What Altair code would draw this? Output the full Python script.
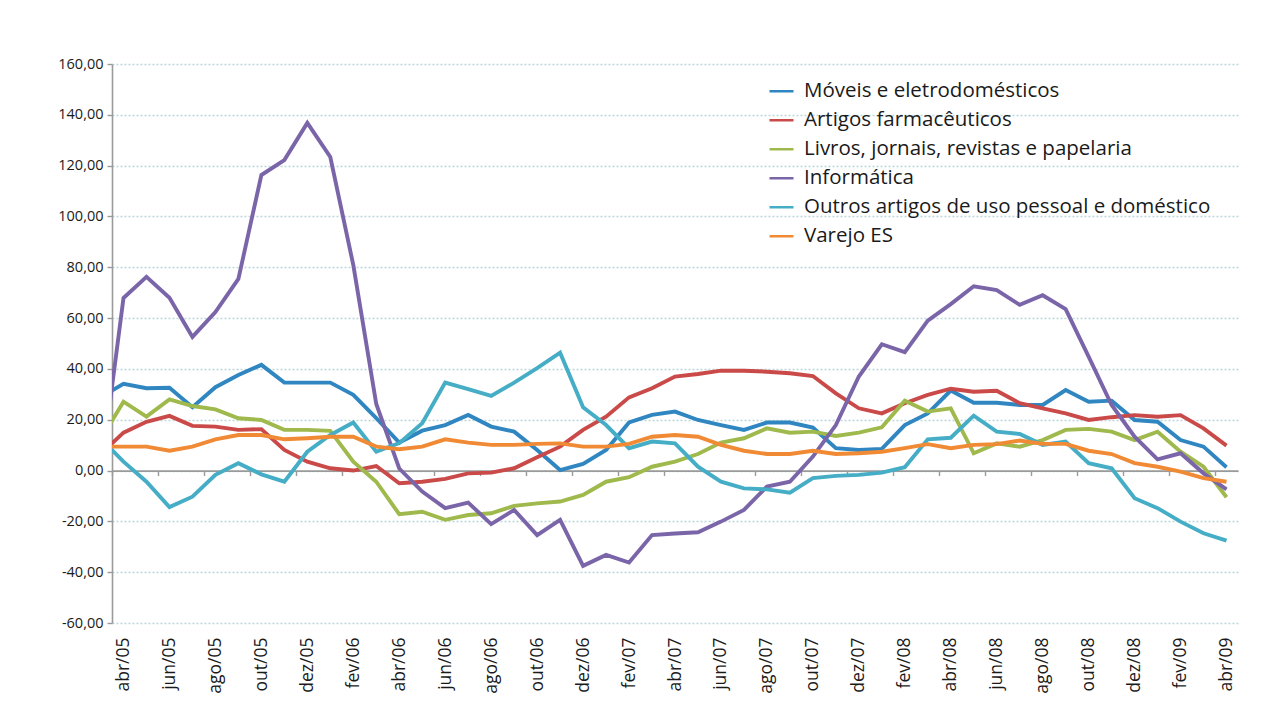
import altair as alt
import pandas as pd

months = ["mar/05",
          "abr/05", "mai/05", "jun/05", "jul/05", "ago/05", "set/05", "out/05", "nov/05", "dez/05",
          "jan/06", "fev/06", "mar/06", "abr/06", "mai/06", "jun/06", "jul/06", "ago/06", "set/06",
          "out/06", "nov/06", "dez/06", "jan/07", "fev/07", "mar/07", "abr/07", "mai/07", "jun/07",
          "jul/07", "ago/07", "set/07", "out/07", "nov/07", "dez/07", "jan/08", "fev/08", "mar/08",
          "abr/08", "mai/08", "jun/08", "jul/08", "ago/08", "set/08", "out/08", "nov/08", "dez/08",
          "jan/09", "fev/09", "mar/09", "abr/09"]

moveis = [28.9,
          34.1, 32.4, 32.6, 24.9, 32.8, 37.6, 41.6, 34.6, 34.6, 34.6, 29.8, 20.6, 11.0, 15.7, 17.9,
          21.9, 17.3, 15.3, 8.1, 0.2, 2.6, 8.1, 18.9, 21.9, 23.2, 19.9, 17.9, 16.0, 18.9, 18.9, 16.9,
          8.8, 8.1, 8.5, 17.9, 22.5, 31.5, 26.7, 26.7, 25.8, 25.8, 31.7, 27.1, 27.5, 19.9, 19.2, 12.0,
          9.4, 1.3]
farmaceuticos = [6.5,
                 14.9, 19.2, 21.5, 17.6, 17.3, 16.0, 16.3, 8.1, 3.5, 0.9, 0.0, 1.8, -5.0, -4.4, -3.3,
                 -1.1, -0.8, 0.9, 5.2, 9.4, 16.0, 21.2, 28.8, 32.4, 37.0, 38.0, 39.3, 39.3, 38.9, 38.3,
                 37.2, 30.4, 24.5, 22.5, 26.5, 29.8, 32.2, 31.0, 31.4, 26.5, 24.5, 22.5, 19.9, 21.0,
                 21.8, 21.2, 21.8, 16.6, 9.8]
livros = [12.1,
          27.1, 21.2, 28.0, 25.4, 24.1, 20.6, 19.9, 16.0, 16.0, 15.6, 3.5, -4.4, -17.2, -16.2, -19.4,
          -17.5, -16.8, -13.9, -12.9, -12.2, -9.6, -4.4, -2.6, 1.5, 3.5, 6.5, 11.0, 12.7, 16.6, 14.9,
          15.3, 13.6, 14.9, 17.0, 27.5, 23.2, 24.5, 6.8, 10.7, 9.4, 12.0, 16.0, 16.4, 15.3, 12.0,
          15.3, 7.4, 1.5, -10.5]
informatica = [-2.0,
               67.9, 76.2, 68.0, 52.6, 62.4, 75.4, 116.3, 122.2, 136.8, 123.4, 80.9, 26.2, 0.8, -8.3,
               -14.8, -12.6, -21.1, -15.5, -25.4, -19.4, -37.5, -33.2, -36.2, -25.4, -24.8, -24.3,
               -20.1, -15.5, -6.3, -4.4, 5.5, 17.9, 37.0, 49.7, 46.6, 59.0, 65.5, 72.5, 71.0, 65.2,
               69.0, 63.5, 44.8, 25.8, 13.3, 4.4, 6.8, -1.1, -7.4]
outros = [12.7,
          3.5, -4.4, -14.4, -10.3, -1.7, 2.9, -1.5, -4.4, 7.4, 14.0, 18.9, 7.4, 10.8, 18.6, 34.6,
          32.0, 29.4, 34.6, 40.3, 46.4, 24.9, 17.9, 8.8, 11.4, 10.7, 1.5, -4.4, -7.0, -7.4, -8.7,
          -3.0, -2.1, -1.7, -0.8, 1.3, 12.3, 12.9, 21.6, 15.3, 14.4, 10.1, 11.4, 2.9, 0.9, -10.9,
          -14.8, -20.1, -24.7, -27.6]
varejo = [9.4,
          9.4, 9.4, 7.8, 9.4, 12.3, 14.0, 14.0, 12.3, 12.7, 13.3, 13.3, 9.4, 8.4, 9.4, 12.3, 11.0,
          10.1, 10.1, 10.5, 10.7, 9.4, 9.4, 10.5, 13.3, 14.0, 13.3, 10.1, 7.8, 6.5, 6.5, 7.8, 6.5,
          6.8, 7.4, 8.8, 10.4, 8.8, 10.1, 10.4, 11.8, 10.5, 10.5, 7.8, 6.5, 2.9, 1.5, -0.4, -3.0,
          -4.4]

series_names = ["Móveis e eletrodomésticos", "Artigos farmacêuticos",
                "Livros, jornais, revistas e papelaria", "Informática",
                "Outros artigos de uso pessoal e doméstico", "Varejo ES"]
series_values = [moveis, farmaceuticos, livros, informatica, outros, varejo]
colors = ["#2f86c0", "#c94a48", "#9fb94c", "#7b65a9", "#45adc5", "#f08a35"]

y_ticks = [-60, -40, -20, 0, 20, 40, 60, 80, 100, 120, 140, 160]

rows = []
for s_order, (name, vals) in enumerate(zip(series_names, series_values)):
    for k, (m, v) in enumerate(zip(months, vals)):
        rows.append({"serie": name, "ordem": s_order, "mes": m, "i": k - 1, "valor": v})
df = pd.DataFrame(rows)

W, H = 1126, 559
YMIN, YMAX = -60, 160
n_cat = len(months) - 1
x_scale = alt.Scale(domain=[-0.5, n_cat - 0.5], nice=False, zero=False)
y_scale = alt.Scale(domain=[YMIN, YMAX], nice=False)

FONT = "Open Sans"
label_arr = "[" + ",".join("'%s'" % m for m in months) + "]"

y_axis = alt.Axis(values=y_ticks,
                  labelExpr="(datum.value < 0 ? '-' : '') + replace(format(abs(datum.value), '.2f'), '.', ',')",
                  labelFontSize=14.5, labelFont=FONT, labelColor="#1a1a1a", labelPadding=4,
                  domainColor="#9a9a9a", domainWidth=1.6, tickColor="#9a9a9a",
                  tickSize=5, tickWidth=1.4, grid=True, gridColor="#bcd8db",
                  gridDash=[2, 2], gridWidth=1.6, title=None)

lines = alt.Chart(df).mark_line(strokeWidth=3.9, clip=True).encode(
    x=alt.X("i:Q", scale=x_scale,
            axis=alt.Axis(orient="bottom", values=list(range(0, n_cat, 2)),
                          labelExpr=label_arr + "[datum.value + 1]",
                          labelAngle=270, labelPadding=14, labelFontSize=17.5,
                          labelFont=FONT, labelColor="#1a1a1a", domain=False, ticks=False,
                          grid=False, title=None, labelOverlap=False, labelFlush=False)),
    y=alt.Y("valor:Q", scale=y_scale, axis=y_axis),
    color=alt.Color("serie:N", scale=alt.Scale(domain=series_names, range=colors),
                    legend=alt.Legend(orient="none", legendX=656, legendY=13, title=None,
                                      symbolType="stroke", symbolSize=576, symbolStrokeWidth=2.5,
                                      labelFontSize=20.5, labelFont=FONT, labelColor="#1a1a1a",
                                      labelOffset=9, labelLimit=700, rowPadding=0,
                                      clipHeight=28.6, padding=0, symbolOffset=0)),
    detail="ordem:O",
    order="i:Q",
)

zero_offset = -H * (0 - YMIN) / (YMAX - YMIN)
zero_axis = alt.Chart(df).mark_point(opacity=0, size=1).encode(
    x=alt.X("i:Q", scale=x_scale,
            axis=alt.Axis(orient="bottom", offset=zero_offset,
                          values=[v + 0.5 for v in range(-1, n_cat, 2)],
                          labels=False, ticks=True, tickSize=5, tickWidth=1.4,
                          tickColor="#9a9a9a", domain=True, domainColor="#9a9a9a",
                          domainWidth=1.8, grid=False, title=None)),
    y=alt.Y("valor:Q", scale=y_scale, axis=y_axis),
)

chart = alt.layer(zero_axis, lines).resolve_axis(x="independent").properties(
    width=W, height=H,
    autosize=alt.AutoSizeParams(type="none"),
    padding={"left": 104, "top": 56, "right": 25, "bottom": 82},
    background="white",
).configure_view(strokeWidth=0)

chart.save("out.html", embed_options={"renderer": "svg", "actions": False})
